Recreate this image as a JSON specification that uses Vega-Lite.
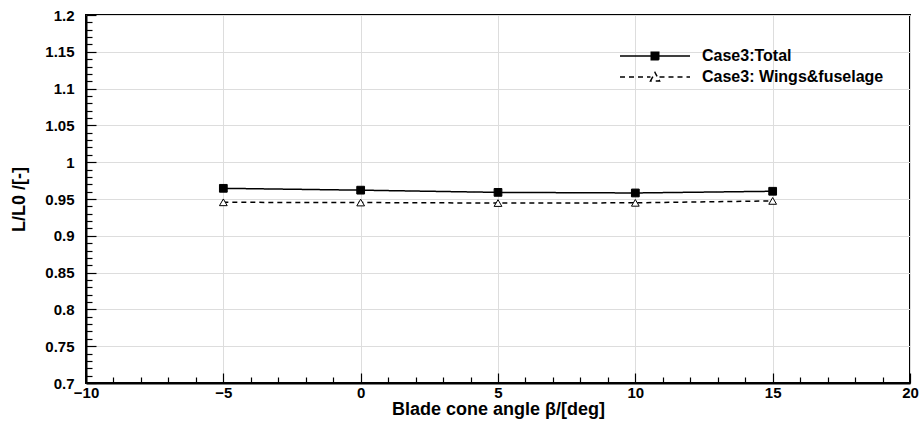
{
  "$schema": "https://vega.github.io/schema/vega-lite/v6.json",
  "width": 824,
  "height": 368,
  "autosize": {"type": "none"},
  "padding": {"left": 86, "top": 15, "right": 12, "bottom": 40},
  "background": "white",
  "config": {
    "view": {"stroke": "black", "strokeWidth": 2},
    "font": "Liberation Sans",
    "axis": {
      "domainColor": "black",
      "domainWidth": 2,
      "tickColor": "black",
      "tickWidth": 1.2,
      "gridColor": "#dddddd",
      "gridWidth": 1,
      "labelFont": "Liberation Sans",
      "labelFontWeight": "bold",
      "labelFontSize": 15,
      "labelColor": "black",
      "titleFont": "Liberation Sans",
      "titleFontWeight": "bold",
      "titleFontSize": 18,
      "titleColor": "black",
      "labelOverlap": false,
      "labelFlush": false
    }
  },
  "data": {
    "values": [
      {"beta": -5, "series": "Case3:Total", "LL0": 0.9645},
      {"beta": 0, "series": "Case3:Total", "LL0": 0.962},
      {"beta": 5, "series": "Case3:Total", "LL0": 0.959},
      {"beta": 10, "series": "Case3:Total", "LL0": 0.9582},
      {"beta": 15, "series": "Case3:Total", "LL0": 0.9605},
      {"beta": -5, "series": "Case3: Wings&fuselage", "LL0": 0.9455},
      {"beta": 0, "series": "Case3: Wings&fuselage", "LL0": 0.9452},
      {"beta": 5, "series": "Case3: Wings&fuselage", "LL0": 0.9445},
      {"beta": 10, "series": "Case3: Wings&fuselage", "LL0": 0.9448},
      {"beta": 15, "series": "Case3: Wings&fuselage", "LL0": 0.9474}
    ]
  },
  "encoding": {
    "x": {
      "field": "beta",
      "type": "quantitative",
      "scale": {"domain": [-10, 20], "nice": false, "zero": false},
      "axis": {
        "title": "Blade cone angle β/[deg]",
        "values": [-10,-9,-8,-7,-6,-5,-4,-3,-2,-1,0,1,2,3,4,5,6,7,8,9,10,11,12,13,14,15,16,17,18,19,20],
        "labelExpr": "datum.value % 5 == 0 ? format(datum.value, 'd') : ''",
        "tickSize": {"condition": {"test": "datum.value % 5 == 0", "value": -10}, "value": -6},
        "gridOpacity": {"condition": {"test": "datum.value % 5 == 0", "value": 1}, "value": 0},
        "labelPadding": 12,
        "titlePadding": -4
      }
    },
    "y": {
      "field": "LL0",
      "type": "quantitative",
      "scale": {"domain": [0.7, 1.2], "nice": false, "zero": false},
      "axis": {
        "title": "L/L0 /[-]",
        "values": [0.7,0.71,0.72,0.73,0.74,0.75,0.76,0.77,0.78,0.79,0.8,0.81,0.82,0.83,0.84,0.85,0.86,0.87,0.88,0.89,0.9,0.91,0.92,0.93,0.94,0.95,0.96,0.97,0.98,0.99,1,1.01,1.02,1.03,1.04,1.05,1.06,1.07,1.08,1.09,1.1,1.11,1.12,1.13,1.14,1.15,1.16,1.17,1.18,1.19,1.2],
        "labelExpr": "round(datum.value*100) % 5 == 0 ? format(datum.value, '~g') : ''",
        "tickSize": {"condition": {"test": "round(datum.value*100) % 5 == 0", "value": -10}, "value": -6},
        "gridOpacity": {"condition": {"test": "round(datum.value*100) % 5 == 0", "value": 1}, "value": 0},
        "labelPadding": 22,
        "titlePadding": 16
      }
    }
  },
  "layer": [
    {
      "mark": {"type": "line", "color": "black", "strokeWidth": 1.5},
      "encoding": {
        "strokeDash": {
          "field": "series",
          "type": "nominal",
          "scale": {"domain": ["Case3:Total", "Case3: Wings&fuselage"], "range": [[1, 0], [5, 4]]},
          "legend": {
            "title": null,
            "orient": "none",
            "legendX": 561,
            "legendY": 33,
            "padding": 0,
            "symbolSize": 100,
            "symbolStrokeColor": "black",
            "symbolStrokeWidth": 1.5,
            "labelFont": "Liberation Sans",
            "labelFontWeight": "bold",
            "labelFontSize": 16,
            "labelColor": "black",
            "labelOffset": 39,
            "labelLimit": 400,
            "rowPadding": 5,
            "encode": {
              "symbols": {
                "update": {
                  "shape": {"signal": "datum.value === 'Case3:Total' ? 'M-7,0L7,0M-0.75,-0.75L0.75,-0.75L0.75,0.75L-0.75,0.75Z' : 'M-7,0L-0.9,0M0.9,0L7,0M-0.9,0.8L0,-0.9L0.9,0.8Z'"},
                  "fill": {"signal": "datum.value === 'Case3:Total' ? 'black' : 'white'"},
                  "stroke": {"value": "black"}
                }
              }
            }
          }
        }
      }
    },
    {
      "transform": [{"filter": "datum.series === 'Case3:Total'"}],
      "mark": {"type": "point", "shape": "square", "filled": true, "fill": "black", "stroke": "black", "strokeWidth": 1, "opacity": 1, "size": 60}
    },
    {
      "transform": [{"filter": "datum.series === 'Case3: Wings&fuselage'"}],
      "mark": {"type": "point", "shape": "triangle-up", "filled": true, "fill": "white", "stroke": "black", "strokeWidth": 1, "opacity": 1, "size": 60}
    }
  ]
}
